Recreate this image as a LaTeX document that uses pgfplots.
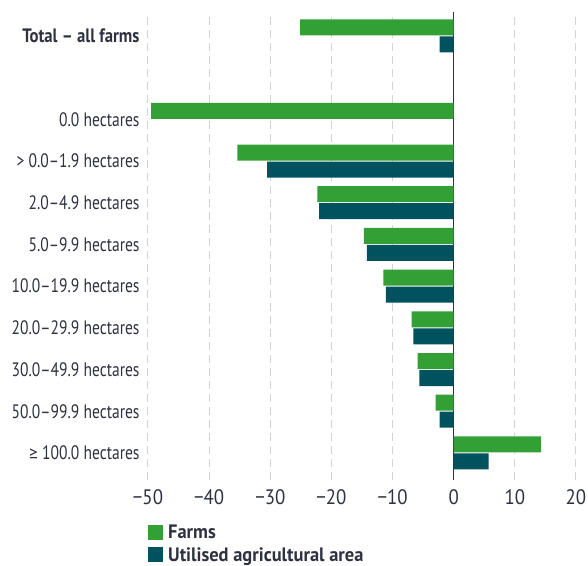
\documentclass[border=0pt]{standalone}
\usepackage{fontspec}
\setmainfont{PT Sans}[FakeStretch=0.8]
\newfontfamily\tickfont{PT Sans}[FakeStretch=0.9]
\newfontfamily\boldfont{PT Sans}[FakeStretch=0.86]
\newfontfamily\legfont{PT Sans}[FakeStretch=0.95]
\newfontfamily\symfont{Carlito}
\usepackage{pgfplots}
\pgfplotsset{compat=1.18}
\definecolor{farmgreen}{HTML}{33A035}
\definecolor{uaateal}{HTML}{00525E}
\definecolor{txt}{HTML}{2E3140}
\definecolor{gridgray}{HTML}{D3D3D3}
\begin{document}
\begin{tikzpicture}
\begin{axis}[
  at={(0,0)}, anchor=south west,
  scale only axis, width=428bp, height=468bp,
  xbar, bar width=16bp,
  xmin=-50, xmax=20, ymin=-0.65, ymax=10.575,
  axis line style={draw=none},
  xtick={-50,-40,-30,-20,-10,0,10,20},
  xticklabels={−50,−40,−30,−20,−10,0,10,20},
  ytick={0,1,2,3,4,5,6,7,8,10},
  yticklabels={{\symfont ≥} 100.0 hectares,50.0–99.9 hectares,30.0–49.9 hectares,20.0–29.9 hectares,10.0–19.9 hectares,5.0–9.9 hectares,2.0–4.9 hectares,> 0.0–1.9 hectares,0.0 hectares,{\boldfont\bfseries Total – all farms}},
  major tick length=0pt,
  yticklabel style={font=\fontsize{19.5}{22}\selectfont, text=txt, xshift=-5bp},
  xticklabel style={font=\tickfont\fontsize{21}{24}\selectfont, text=txt, yshift=-6bp},
  xmajorgrids, grid style={gridgray, line width=1bp, dash pattern=on 8bp off 5bp},
  extra x ticks={0}, extra x tick labels={},
  extra x tick style={grid style={solid, txt, line width=1.5bp}},
  legend style={at={(0,-0.092)}, anchor=north west, draw=none, fill=none,
    font=\legfont\bfseries\fontsize{19.5}{22}\selectfont, text=txt, inner sep=0pt,
    row sep=3bp, cells={anchor=west}},
  legend image code/.code={\fill[#1] (0bp,-7bp) rectangle (15bp,8bp);},
  legend cell align=left,
]
\addplot[fill=farmgreen, draw=none, bar shift=8.5bp] coordinates {
  (-25.1,10) (-49.5,8) (-35.4,7) (-22.3,6) (-14.7,5) (-11.5,4) (-6.9,3) (-5.9,2) (-2.95,1) (14.3,0)
};
\addlegendentry{\hspace{3bp}Farms}
\addplot[fill=uaateal, draw=none, bar shift=-8.5bp] coordinates {
  (-2.3,10) (-30.5,7) (-22.0,6) (-14.2,5) (-11.1,4) (-6.6,3) (-5.6,2) (-2.3,1) (5.7,0)
};
\addlegendentry{\hspace{3bp}Utilised agricultural area}
\end{axis}
\pgfresetboundingbox
\path[use as bounding box] (-148bp,-86bp) rectangle (440bp,480bp);
\end{tikzpicture}
\end{document}
